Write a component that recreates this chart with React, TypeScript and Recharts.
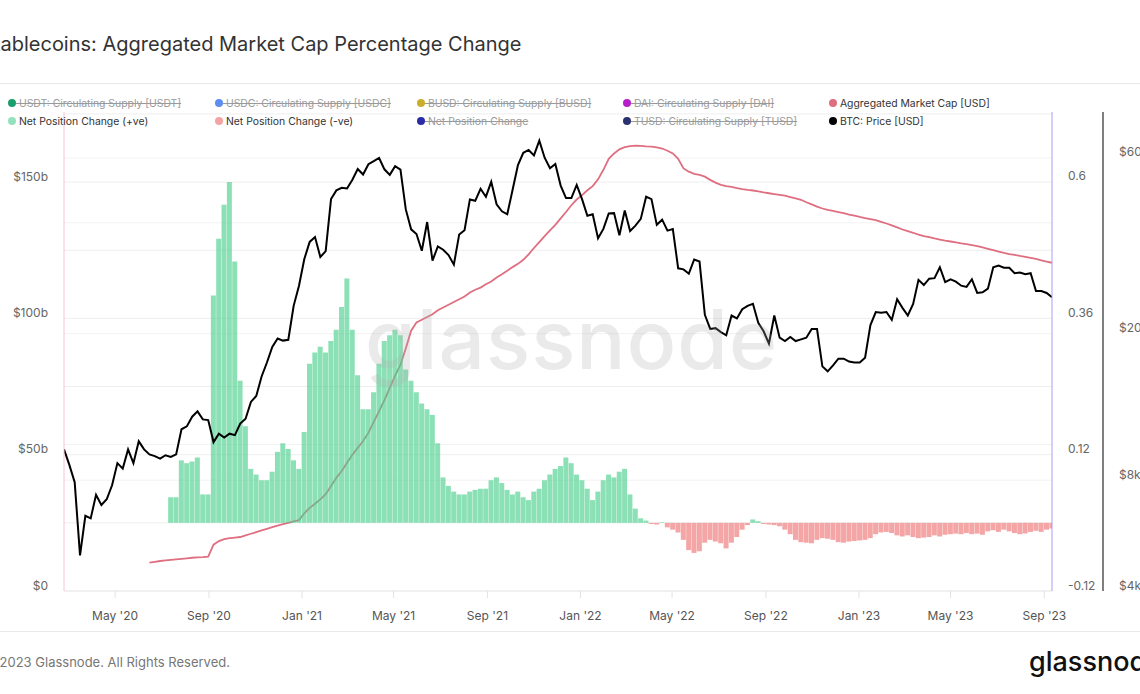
import { ComposedChart, Line, Bar, XAxis, YAxis, CartesianGrid } from "recharts";

const FONT = "Inter, 'Noto Sans', sans-serif";
const DAY = 86400000;

// weekly samples, first one on this Monday
const firstWeek = "2020-02-24";
const lastDay = "2023-09-11";

// BTC price [USD], one value per week from firstWeek
const btcPrice = [
  9700, 8800, 7900, 5000, 6400, 6300, 7300, 6850, 7100, 7750,
  8900, 8600, 9700, 8900, 10200, 9700, 9400, 9300, 9150, 9350,
  9250, 9400, 11000, 11200, 11900, 12300, 11700, 11650, 10150, 10700,
  10450, 10700, 10600, 11400, 11750, 13050, 13550, 15300, 16700, 18400,
  19400, 19150, 19250, 23800, 27000, 31900, 35500, 36600, 32300, 33500,
  46400, 49000, 49800, 49600, 52400, 56000, 54100, 57700, 58800, 60000,
  55900, 54000, 57000, 55800, 43500, 38400, 37300, 33600, 40200, 31600,
  34500, 33800, 32700, 30800, 37200, 38200, 46300, 45900, 49500, 47100,
  51700, 44900, 43000, 42200, 49200, 57400, 62000, 63100, 61000, 66900,
  60100, 56300, 57800, 50500, 46700, 46700, 50700, 46400, 41800, 42200,
  36300, 38500, 42400, 42500, 37000, 43200, 38000, 39300, 41000, 47100,
  46400, 39500, 40800, 38100, 38500, 30100, 29900, 29100, 31800, 31400,
  22500, 20600, 20700, 20200, 19800, 22400, 22000, 23300, 23800, 24100,
  21400, 20300, 18800, 22400, 19500, 19100, 19600, 19100, 19300, 19500,
  20600, 20600, 16300, 15800, 16400, 17100, 17100, 16800, 16700, 16700,
  17200, 21100, 22900, 22800, 22900, 21800, 24800, 23500, 22400, 24100,
  28000, 27100, 28200, 28300, 30300, 27600, 28100, 27700, 27000, 26800,
  28100, 25800, 25900, 26500, 30300, 30600, 30200, 30200, 29200, 29300,
  29000, 29200, 26100, 26100, 25800, 25100,
];

// aggregated stablecoin market cap [billion USD], starts at week 16
const capFirstWeek = 16;
const marketCapB = [
  10.4, 10.7, 11.0, 11.2, 11.4, 11.6, 11.8, 12.0, 12.2, 12.3, 12.4, 12.6,
  17.0, 18.3, 19.0, 19.4, 19.6, 19.8, 20.4, 21.0, 21.6, 22.2, 22.8, 23.4, 24.0, 24.5, 25.0, 25.5, 26.0,
  28.5, 30.5, 32.0, 33.6, 35.5, 38.5, 41.5, 44.0, 47.0, 50.0, 52.5, 55.0, 58.0, 62.0, 66.0, 70.0, 74.5, 79.0, 83.0, 89.0, 95.5, 98.5,
  99.5, 100.5, 101.5, 103.0, 104.0, 105.0, 106.0, 107.0, 108.0, 109.5, 110.5, 111.3, 112.5, 113.5,
  115.0, 116.2, 117.5, 118.8, 120.0, 121.5, 123.5, 125.8, 128.0, 130.2, 132.3, 134.3, 136.7, 139.0, 141.5, 143.6, 145.2, 147.0, 148.5, 151.0,
  154.5, 158.5, 160.5, 162.0, 162.8, 163.2, 163.4, 163.3, 163.1, 163.0, 162.7, 162.3, 161.5, 160.5, 158.5, 155.0, 153.8, 153.0, 152.6, 152.0,
  150.8, 149.8, 149.0, 148.5, 148.2, 147.8, 147.4, 147.1, 146.9, 146.6, 146.2, 145.9, 145.6, 145.3, 145.0, 144.5, 144.0, 143.5, 142.6, 141.8,
  141.0, 140.3, 139.8, 139.4, 139.0, 138.6, 138.1, 137.7, 137.2, 136.8, 136.4, 136.0, 135.4, 134.8, 134.1, 133.4, 132.6, 132.0, 131.4, 130.7,
  130.2, 129.8, 129.3, 128.9, 128.5, 128.2, 127.9, 127.5, 127.2, 126.9, 126.5, 126.0, 125.5, 125.0, 124.5, 124.0, 123.6, 123.3, 122.9, 122.6,
  122.2, 121.8, 121.3, 120.8, 120.4,
];

// net position change (30d % change), starts at week 20
const netFirstWeek = 20;
const netChange = [
  0.045, 0.045, 0.11, 0.105, 0.108, 0.115, 0.05, 0.05,
  0.40, 0.50, 0.56, 0.60, 0.46, 0.25, 0.17, 0.095, 0.085, 0.075, 0.075, 0.09, 0.125, 0.14, 0.13, 0.11, 0.095,
  0.16, 0.28, 0.30, 0.31, 0.30, 0.32, 0.34, 0.38, 0.43, 0.34, 0.26, 0.20, 0.20, 0.23, 0.28, 0.32, 0.33, 0.34, 0.33,
  0.27, 0.25, 0.23, 0.21, 0.20, 0.19, 0.14,
  0.08, 0.065, 0.055, 0.05, 0.05, 0.055, 0.058, 0.06, 0.06, 0.075, 0.08, 0.07, 0.058, 0.05, 0.055,
  0.045, 0.04, 0.055, 0.06, 0.075, 0.085, 0.095, 0.10, 0.115, 0.105, 0.085, 0.075, 0.06, 0.04, 0.055,
  0.075, 0.085, 0.08, 0.09, 0.095, 0.05, 0.025, 0.008, 0.004, -0.002, -0.003, 0.001, -0.008, -0.012, -0.017,
  -0.03, -0.048, -0.053, -0.05, -0.035, -0.03, -0.033, -0.036, -0.045, -0.035, -0.025, -0.012, -0.004, 0.006, 0.003,
  -0.002, -0.003, -0.004, -0.006, -0.012, -0.02, -0.03, -0.034, -0.035, -0.036, -0.03, -0.027, -0.028, -0.03, -0.034,
  -0.035, -0.033, -0.032, -0.031, -0.03, -0.027, -0.02, -0.017, -0.016, -0.018, -0.022, -0.024, -0.022, -0.025, -0.027,
  -0.026, -0.025, -0.022, -0.024, -0.021, -0.02, -0.019, -0.02, -0.018, -0.02, -0.019, -0.021, -0.015, -0.013, -0.016,
  -0.012, -0.015, -0.018, -0.02, -0.019, -0.016, -0.014, -0.016, -0.012, -0.01,
];

const tickDates = [
  "2020-05-01", "2020-09-01", "2021-01-01", "2021-05-01", "2021-09-01", "2022-01-01",
  "2022-05-01", "2022-09-01", "2023-01-01", "2023-05-01", "2023-09-01",
];
const tickLabels = [
  "May '20", "Sep '20", "Jan '21", "May '21", "Sep '21", "Jan '22",
  "May '22", "Sep '22", "Jan '23", "May '23", "Sep '23",
];

const capTicks = [0, 50, 100, 150];
const capGrid = [25, 50, 75, 100, 125, 150, 175];
const netTicks = [-0.12, 0.12, 0.36, 0.6];
const btcTicks = [4000, 8000, 20000, 60000];
const btcGrid = [8000, 10000, 20000, 40000, 60000];

const legendItems = [
  [
    { name: "USDT: Circulating Supply [USDT]", color: "#1b9e6e", off: true },
    { name: "USDC: Circulating Supply [USDC]", color: "#5b8ef0", off: true },
    { name: "BUSD: Circulating Supply [BUSD]", color: "#c9ae2c", off: true },
    { name: "DAI: Circulating Supply [DAI]", color: "#b51fc9", off: true },
    { name: "Aggregated Market Cap [USD]", color: "#df6f80", off: false },
  ],
  [
    { name: "Net Position Change (+ve)", color: "#93e2bd", off: false },
    { name: "Net Position Change (-ve)", color: "#f4a3a3", off: false },
    { name: "Net Position Change", color: "#2b2ba6", off: true },
    { name: "TUSD: Circulating Supply [TUSD]", color: "#2b306e", off: true },
    { name: "BTC: Price [USD]", color: "#000000", off: false },
  ],
];
const legendCols = [12, 219, 421, 627, 833];
const legendRows = [103, 121];

const t0 = Date.parse(firstWeek);
const tEnd = Date.parse(lastDay);
const tickTimes = tickDates.map((d) => Date.parse(d));

const data = btcPrice.map((btc, i) => {
  const cap = i >= capFirstWeek ? marketCapB[i - capFirstWeek] : null;
  const net = i >= netFirstWeek ? netChange[i - netFirstWeek] : null;
  return {
    t: t0 + i * 7 * DAY,
    btc,
    cap,
    pos: net !== null && net > 0 ? net : null,
    neg: net !== null && net < 0 ? net : null,
  };
});

function fmtCap(v: number) {
  return v === 0 ? "$0" : `$${v}b`;
}

function fmtBtc(v: number) {
  return `$${v / 1000}k`;
}

const LeftTick = ({ x, y, payload }: any) => (
  <text x={x} y={y - 6} textAnchor="end" dominantBaseline="central" fontSize={12} fill="#666" fontFamily={FONT}>
    {fmtCap(payload.value)}
  </text>
);

const NetTick = ({ x, y, payload }: any) => (
  <text x={x} y={y - 6} textAnchor="start" dominantBaseline="central" fontSize={12} fill="#666" fontFamily={FONT}>
    {String(payload.value)}
  </text>
);

const BtcTick = ({ x, y, payload }: any) => (
  <text x={x} y={y - 6} textAnchor="start" dominantBaseline="central" fontSize={12} fill="#666" fontFamily={FONT}>
    {fmtBtc(payload.value)}
  </text>
);

const DateTick = ({ x, y, payload }: any) => {
  const idx = tickTimes.indexOf(payload.value);
  return (
    <text x={x} y={y + 6} textAnchor="middle" dominantBaseline="central" fontSize={12} fill="#555" fontFamily={FONT}>
      {idx >= 0 ? tickLabels[idx] : ""}
    </text>
  );
};

export default function App() {
  return (
    <div
      style={{
        position: "absolute",
        left: 0,
        top: 0,
        width: 1140,
        height: 694,
        overflow: "hidden",
        background: "#fff",
        fontFamily: FONT,
      }}
    >
      {/* title */}
      <div style={{ position: "absolute", left: -19, top: 32, fontSize: 20, color: "#333", whiteSpace: "nowrap", lineHeight: "24px" }}>
        Stablecoins: Aggregated Market Cap Percentage Change
      </div>
      <div style={{ position: "absolute", left: 0, top: 83, width: 1140, height: 1, background: "#e8e8e8" }} />

      <div style={{ position: "absolute", left: 0, top: 0 }}>
        <ComposedChart width={1160} height={694} data={data} margin={{ top: 112, right: 0, bottom: 63, left: 0 }} stackOffset="sign">
          <CartesianGrid yAxisId="axCap" horizontalValues={capGrid} vertical={false} stroke="#eeeeee" />
          <CartesianGrid yAxisId="axPrice" horizontalValues={btcGrid} vertical={false} stroke="#f2f2f2" />
          <XAxis
            dataKey="t"
            type="number"
            height={40}
            domain={[t0, tEnd]}
            allowDataOverflow
            ticks={tickTimes}
            interval={0}
            tick={<DateTick />}
            tickSize={7}
            tickMargin={11}
            stroke="#e2e2e2"
          />
          <YAxis
            yAxisId="axCap"
            orientation="left"
            width={64}
            domain={[0, 175.7]}
            allowDataOverflow
            ticks={capTicks}
            tick={<LeftTick />}
            tickSize={0}
            tickMargin={16}
            stroke="#f5c6ce"
          />
          <YAxis
            yAxisId="axNet"
            orientation="right"
            width={51}
            domain={[-0.12, 0.7232]}
            allowDataOverflow
            ticks={netTicks}
            tick={<NetTick />}
            tickSize={0}
            tickMargin={16}
            stroke="#a99df2"
          />
          <YAxis
            yAxisId="axPrice"
            orientation="right"
            width={57}
            scale="log"
            domain={[4000, 80000]}
            allowDataOverflow
            ticks={btcTicks}
            tick={<BtcTick />}
            tickSize={0}
            tickMargin={16}
            stroke="#555"
            strokeWidth={1.5}
          />
          <Line
            yAxisId="axCap"
            dataKey="cap"
            type="linear"
            stroke="#df6f80"
            strokeWidth={1.8}
            dot={false}
            isAnimationActive={false}
            connectNulls={false}
            zIndex={100}
          />
          <Bar yAxisId="axNet" dataKey="pos" stackId="net" barSize={5} fill="#4fcf8f" fillOpacity={0.65} isAnimationActive={false} zIndex={200} />
          <Bar yAxisId="axNet" dataKey="neg" stackId="net" barSize={5} fill="#ee7474" fillOpacity={0.65} isAnimationActive={false} zIndex={200} />
          <Line
            yAxisId="axPrice"
            dataKey="btc"
            type="linear"
            stroke="#000"
            strokeWidth={2}
            dot={false}
            isAnimationActive={false}
            zIndex={300}
          />
        </ComposedChart>
      </div>

      {/* watermark */}
      <div
        style={{
          position: "absolute",
          left: 365,
          top: 290,
          fontSize: 82,
          fontWeight: 500,
          color: "rgba(170,170,170,0.25)",
          whiteSpace: "nowrap",
          pointerEvents: "none",
          letterSpacing: 1,
        }}
      >
        glassnode
      </div>

      {/* legend */}
      {legendItems.map((row, r) =>
        row.map((item, c) => (
          <div
            key={item.name}
            style={{
              position: "absolute",
              left: legendCols[c] - 4,
              top: legendRows[r] - 8,
              height: 16,
              display: "flex",
              alignItems: "center",
              whiteSpace: "nowrap",
              fontSize: 10.4,
            }}
          >
            <span style={{ width: 8, height: 8, borderRadius: 4, background: item.color, display: "inline-block" }} />
            <span
              style={{
                color: item.off ? "#9a9a9a" : "#333",
                textDecoration: item.off ? "line-through" : "none",
              }}
            >
              {"\u00a0" + item.name}
            </span>
          </div>
        ))
      )}

      {/* footer */}
      <div style={{ position: "absolute", left: 0, top: 631, width: 1140, height: 1, background: "#e8e8e8" }} />
      <div style={{ position: "absolute", left: -16, top: 654, fontSize: 13, color: "#777", whiteSpace: "nowrap", lineHeight: "16px" }}>
        © 2023 Glassnode. All Rights Reserved.
      </div>
      <div style={{ position: "absolute", left: 1029, top: 647, fontSize: 27, fontWeight: 500, color: "#111", whiteSpace: "nowrap", lineHeight: "30px" }}>
        glassnode
      </div>
    </div>
  );
}
